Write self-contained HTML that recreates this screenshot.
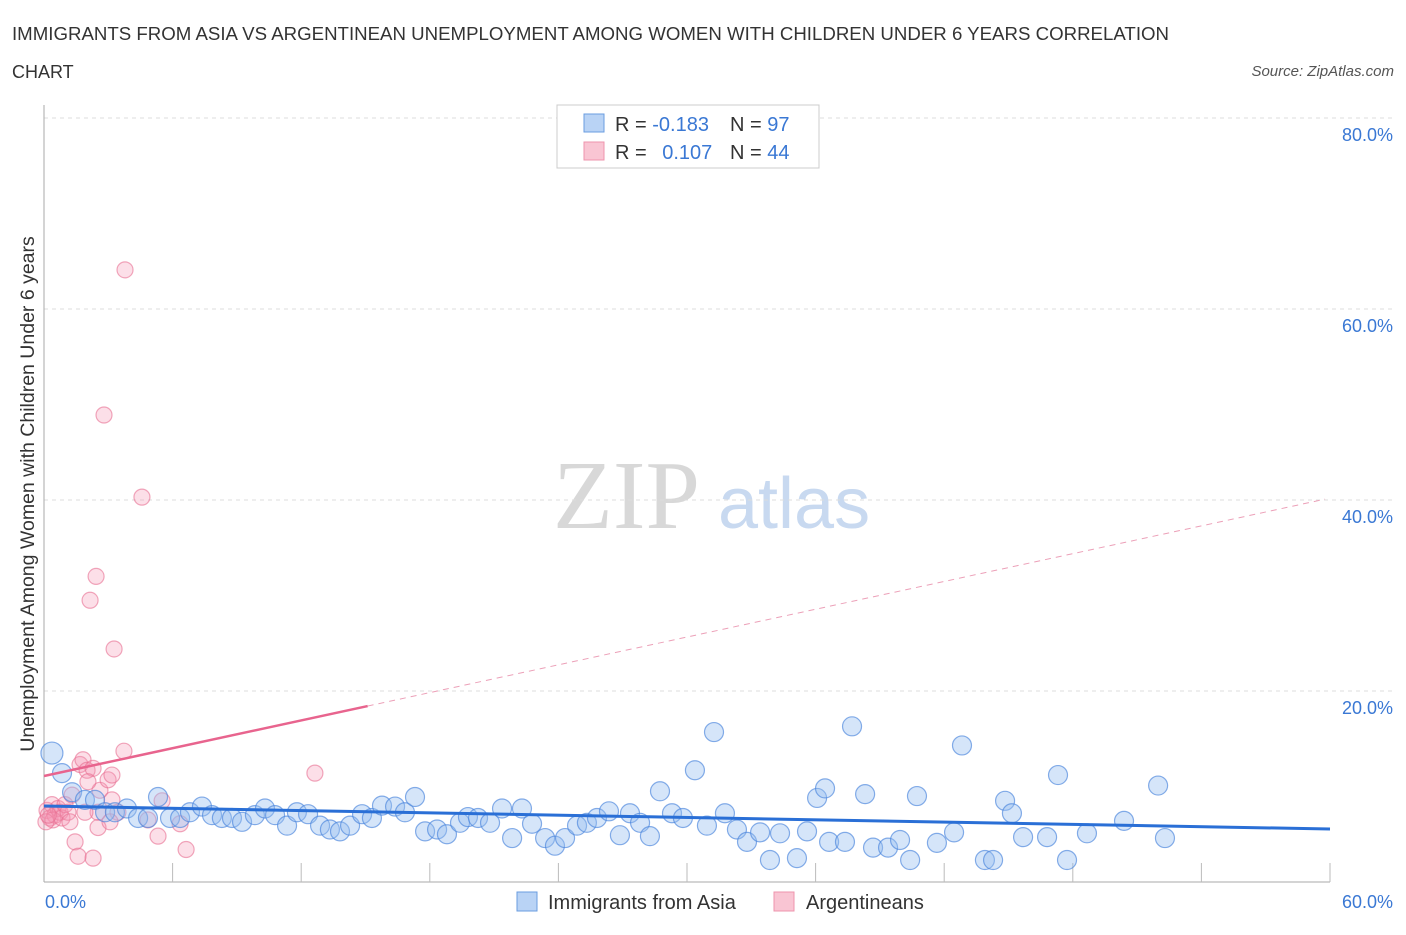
<!DOCTYPE html>
<html><head><meta charset="utf-8"><style>
body{margin:0;background:#fff;font-family:"Liberation Sans",sans-serif}
</style></head><body>
<svg id="chart" width="1406" height="930" xmlns="http://www.w3.org/2000/svg" font-family="Liberation Sans, sans-serif">
<text x="12" y="40" font-size="18" fill="#333" textLength="1157" lengthAdjust="spacingAndGlyphs">IMMIGRANTS FROM ASIA VS ARGENTINEAN UNEMPLOYMENT AMONG WOMEN WITH CHILDREN UNDER 6 YEARS CORRELATION</text>
<text x="12" y="78" font-size="18" fill="#333">CHART</text>
<text x="1394" y="76" font-size="15" fill="#555" font-style="italic" text-anchor="end">Source: ZipAtlas.com</text>
<g>
<text x="553" y="528" font-size="98" fill="#d8d8d8" style="font-family:'Liberation Serif',serif">ZIP</text>
<text x="718" y="528" font-size="72" fill="#c8d9f0">atlas</text>
</g>
<g id="grid"></g>
<g id="axes"></g>
<g id="marks"></g>
<text transform="translate(34,494) rotate(-90)" font-size="19.5" fill="#333" text-anchor="middle">Unemployment Among Women with Children Under 6 years</text>
<g>
<rect x="557" y="105" width="262" height="63" fill="#fff" stroke="#ccc"/>
<rect x="584" y="114" width="20" height="18" fill="#b9d3f5" stroke="#6a9de0"/>
<rect x="584" y="142" width="20" height="18" fill="#f9c5d3" stroke="#ee94ad"/>
<text x="615" y="131" font-size="20" fill="#333">R = <tspan fill="#3a78d4">-0.183</tspan></text>
<text x="730" y="131" font-size="20" fill="#333">N = <tspan fill="#3a78d4">97</tspan></text>
<text x="615" y="159" font-size="20" fill="#333">R = <tspan fill="#3a78d4" dx="10">0.107</tspan></text>
<text x="730" y="159" font-size="20" fill="#333">N = <tspan fill="#3a78d4">44</tspan></text>
</g>
<g>
<rect x="517" y="892" width="20" height="19" fill="#b9d3f5" stroke="#6a9de0"/>
<text x="548" y="909" font-size="20" fill="#333">Immigrants from Asia</text>
<rect x="774" y="892" width="20" height="19" fill="#f9c5d3" stroke="#ee94ad"/>
<text x="806" y="909" font-size="20" fill="#333">Argentineans</text>
</g>
</svg>
<script>
const yTicks=[20,40,60,80];
const xTickLabels=["0.0%","60.0%"];
const blueX=[0.37,0.84,1.31,1.91,2.38,2.85,3.31,3.87,4.39,4.85,5.32,5.88,6.35,6.81,7.37,7.84,8.30,8.77,9.24,9.84,10.31,10.78,11.34,11.80,12.32,12.88,13.34,13.81,14.28,14.84,15.30,15.77,16.38,16.84,17.31,17.78,18.34,18.80,19.41,19.78,20.25,20.81,21.37,21.84,22.30,22.77,23.38,23.84,24.31,24.87,25.33,25.80,26.36,26.87,27.34,27.81,28.27,28.74,29.30,29.81,30.37,30.93,31.26,31.77,32.33,32.80,33.41,33.87,34.34,35.13,35.60,36.07,36.44,36.63,37.37,37.70,38.31,38.68,39.38,39.94,40.41,40.73,41.66,42.46,42.83,43.90,44.28,44.84,45.16,45.68,46.80,47.31,47.73,48.66,50.39,51.98,52.30];
const blueY=[13.5,11.4,9.4,8.6,8.6,7.3,7.3,7.7,6.7,6.7,8.9,6.7,6.7,7.3,7.9,7.0,6.7,6.7,6.3,7.0,7.7,7.0,5.9,7.3,7.1,5.9,5.5,5.3,5.9,7.1,6.7,8.0,7.9,7.3,8.9,5.3,5.5,5.0,6.2,6.8,6.7,6.2,7.7,4.6,7.7,6.1,4.6,3.8,4.6,5.9,6.2,6.7,7.4,4.9,7.2,6.2,4.8,9.5,7.2,6.7,11.7,5.9,15.7,7.2,5.5,4.2,5.2,2.3,5.1,2.5,5.3,8.8,9.8,4.2,4.2,16.3,9.2,3.6,3.6,4.4,2.3,9.0,4.1,5.2,14.3,2.3,2.3,8.5,7.2,4.7,4.7,11.2,2.3,5.1,6.4,10.1,4.6];
const pinkX=[0.14,0.28,0.37,0.51,0.65,0.75,0.42,0.84,0.98,1.12,1.31,1.45,1.59,1.68,1.82,2.01,2.15,2.29,2.43,2.52,2.61,2.80,2.99,3.17,3.27,3.45,3.73,3.78,4.57,4.85,5.32,5.51,6.35,6.63,12.64,2.52,1.91,3.08,2.29,3.17,1.21,0.09,2.05,0.2];
const pinkY=[7.5,6.7,8.1,7.0,7.7,7.3,6.5,6.7,8.1,7.3,9.1,4.2,2.7,12.3,12.8,11.7,29.5,2.5,32.0,7.3,9.6,48.9,10.7,11.2,24.4,7.3,13.7,64.1,40.3,6.5,4.8,8.5,6.1,3.4,11.4,5.7,7.3,6.3,11.9,8.6,6.3,6.3,10.5,7.0];
const blueTrend=[7.96,5.55];
const pinkTrend=[11.1,40.2];
const pinkSolidEnd=15.1;

const NS="http://www.w3.org/2000/svg";
const X=v=>44+v*1286/60;
const Y=v=>882-v*9.55;
function mk(tag,attrs,parent){const e=document.createElementNS(NS,tag);for(const k in attrs)e.setAttribute(k,attrs[k]);document.getElementById(parent).appendChild(e);return e;}
yTicks.forEach(t=>{
  const g=mk('line',{x1:44,x2:1392,y1:Y(t),y2:Y(t),stroke:'#ddd','stroke-dasharray':'4,4'},'grid');
  
  
  const l=mk('text',{x:1393,y:Y(t)+23,'font-size':18,fill:'#3a78d4','text-anchor':'end'},'grid');
  l.textContent=t.toFixed(1)+'%';
  
  
});
const ax=mk('line',{x1:44,x2:44,y1:105,y2:882,stroke:'#aaa'},'axes');


const bx=mk('line',{x1:44,x2:1330,y1:882,y2:882,stroke:'#aaa'},'axes');


for(let i=1;i<=10;i++){
  const t=mk('line',{x1:X(i*6),x2:X(i*6),y1:863,y2:882,stroke:'#bbb'},'axes');
  
  
}
xTickLabels.forEach((s,i)=>{
  const t=mk('text',{x:i?1393:45,y:908,'font-size':18,fill:'#3a78d4','text-anchor':i?'end':'start'},'axes');
  t.textContent=s;
  
  
});
pinkX.forEach((x,i)=>{
  const c=mk('circle',{cx:X(x),cy:Y(pinkY[i]),r:8,fill:'rgba(244,150,178,0.3)',stroke:'rgba(232,110,145,0.6)','stroke-width':1.2},'marks');
  
  
});
blueX.forEach((x,i)=>{
  const c=mk('circle',{cx:X(x),cy:Y(blueY[i]),r:i===0?11:9.5,fill:'rgba(150,190,240,0.4)',stroke:'rgba(70,130,220,0.65)','stroke-width':1.2},'marks');
  
  
});
const bt=mk('line',{x1:X(0),y1:Y(blueTrend[0]),x2:X(60),y2:Y(blueTrend[1]),stroke:'#2a6fd6','stroke-width':3},'marks');


const pAt=x=>pinkTrend[0]+(pinkTrend[1]-pinkTrend[0])*x/60;
const ps=mk('line',{x1:X(0),y1:Y(pAt(0)),x2:X(pinkSolidEnd),y2:Y(pAt(pinkSolidEnd)),stroke:'#e8648e','stroke-width':2.5},'marks');


const pd=mk('line',{x1:X(pinkSolidEnd),y1:Y(pAt(pinkSolidEnd)),x2:X(59.77),y2:Y(pAt(59.77)),stroke:'#eca0b8','stroke-width':1,'stroke-dasharray':'6,5'},'marks');


</script>
</body></html>
